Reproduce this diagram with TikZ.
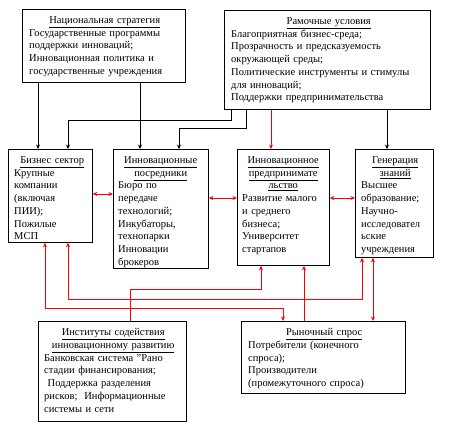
\documentclass[tikz,border=0pt]{standalone}
\usepackage{fontspec}
\setmainfont{Liberation Serif}
\usetikzlibrary{arrows.meta,shadows}
\tikzset{
 box/.style={draw, line width=0.8pt, fill=white, inner sep=0pt, anchor=north west,
   drop shadow={shadow xshift=1pt,shadow yshift=-1pt,fill=gray!60,opacity=1}},
 txt/.style={anchor=north west, inner sep=0pt, align=left, font=\fontsize{10.5}{12.7}\selectfont},
 blk/.style={line width=0.7pt, -{Stealth[length=4.5pt,width=4pt]}},
 rd/.style={red, line width=0.7pt, -{Stealth[length=4.5pt,width=4pt]}},
 rdd/.style={red, line width=0.7pt, {Stealth[length=4.5pt,width=4pt]}-{Stealth[length=4.5pt,width=4pt]}},
}
\newcommand{\ttl}[1]{\leavevmode\hbox to\hsize{\hfil\underline{#1}\hfil}\\}
\begin{document}
\begin{tikzpicture}[x=1pt,y=-1pt]
\useasboundingbox (0,0) rectangle (457,425);
% boxes
\node[box, minimum width=163pt, minimum height=73pt] (ns) at (22,9) {};
\node[box, minimum width=206pt, minimum height=99pt] (ru) at (224,10) {};
\node[box, minimum width=84pt, minimum height=93pt] (bs) at (8,149) {};
\node[box, minimum width=95pt, minimum height=119pt] (ii) at (113,149) {};
\node[box, minimum width=92pt, minimum height=116pt] (ie) at (237,149) {};
\node[box, minimum width=78pt, minimum height=108pt] (gz) at (355,149) {};
\node[box, minimum width=148pt, minimum height=100pt] (is) at (38,321) {};
\node[box, minimum width=164pt, minimum height=72pt] (rs) at (241,321) {};
% texts
\node[txt, text width=151pt] (ns-t) at ([shift={(7pt,-7.5pt)}]ns.north west)
 {\ttl{Национальная стратегия}Государственные программы\\поддержки инноваций;\\Инновационная политика и\\государственные учреждения};
\node[txt, text width=195pt] (ru-t) at ([shift={(7pt,-7.5pt)}]ru.north west)
 {\ttl{Рамочные условия}Благоприятная бизнес-среда;\\Прозрачность и предсказуемость\\окружающей среды;\\Политические инструменты и стимулы\\для инноваций;\\Поддержки предпринимательства};
\node[txt, text width=76pt] (bs-t) at ([shift={(6pt,-7.5pt)}]bs.north west)
 {\ttl{Бизнес сектор}Крупные\\компании\\(включая\\ПИИ);\\Пожилые\\МСП};
\node[txt, text width=85pt] (ii-t) at ([shift={(5pt,-7.5pt)}]ii.north west)
 {\ttl{Инновационные}\ttl{посредники}Бюро по\\передаче\\технологий;\\Инкубаторы,\\технопарки\\Инновации\\брокеров};
\node[txt, text width=82pt] (ie-t) at ([shift={(5pt,-7.5pt)}]ie.north west)
 {\ttl{Инновационное}\ttl{предпринимате}\ttl{льство}Развитие малого\\и среднего\\бизнеса;\\Университет\\стартапов};
\node[txt, text width=68pt] (gz-t) at ([shift={(6pt,-7.5pt)}]gz.north west)
 {\ttl{Генерация}\ttl{знаний}Высшее\\образование;\\Научно-\\исследовател\\ьские\\учреждения};
\node[txt, text width=138pt] (is-t) at ([shift={(6pt,-7.5pt)}]is.north west)
 {\ttl{Институты содействия}\ttl{инновационному развитию}Банковская система "Рано\\стадии финансирования;\\\ Поддержка разделения\\рисков;\ \ Информационные\\системы и сети};
\node[txt, text width=152pt] (rs-t) at ([shift={(7pt,-7.5pt)}]rs.north west)
 {\ttl{Рыночный спрос}Потребители (конечного\\спроса);\\Производители\\(промежуточного спроса)};
% helper coordinates
\foreach \v in {38,45,68,130,140,179,231,246,261,271,283,304,362,373,387} {\coordinate (x\v) at (\v,0);}
\foreach \v in {120,128,194,198,289,299,308} {\coordinate (y\v) at (0,\v);}
% black connectors
\draw[blk] (ns.south -| x38) -- (bs.north -| x38);
\draw[blk] (ns.south -| x140) -- (ii.north -| x140);
\draw[blk] (ru.south -| x231) |- (x68 |- y120) -- (bs.north -| x68);
\draw[blk] (ru.south -| x246) |- (x179 |- y128) -- (ii.north -| x179);
\draw[blk] (ru.south -| x387) -- (gz.north -| x387);
% red connectors
\draw[rd] (ru.south -| x271) -- (ie.north -| x271);
\draw[rdd] (bs.east |- y194) -- (ii.west |- y194);
\draw[rdd] (ii.east |- y198) -- (ie.west |- y198);
\draw[rdd] (ie.east |- y198) -- (gz.west |- y198);
\draw[rdd] (bs.south -| x45) -- (x45 |- y308) -| (rs.north -| x283);
\draw[rdd] (bs.south -| x68) -- (x68 |- y299) -| (gz.south -| x362);
\draw[rd] (is.north -| x130) |- (x261 |- y289) -- (ie.south -| x261);
\draw[rd] (rs.north -| x304) -- (ie.south -| x304);
\draw[rdd] (gz.south -| x373) -- (rs.north -| x373);
\end{tikzpicture}
\end{document}
